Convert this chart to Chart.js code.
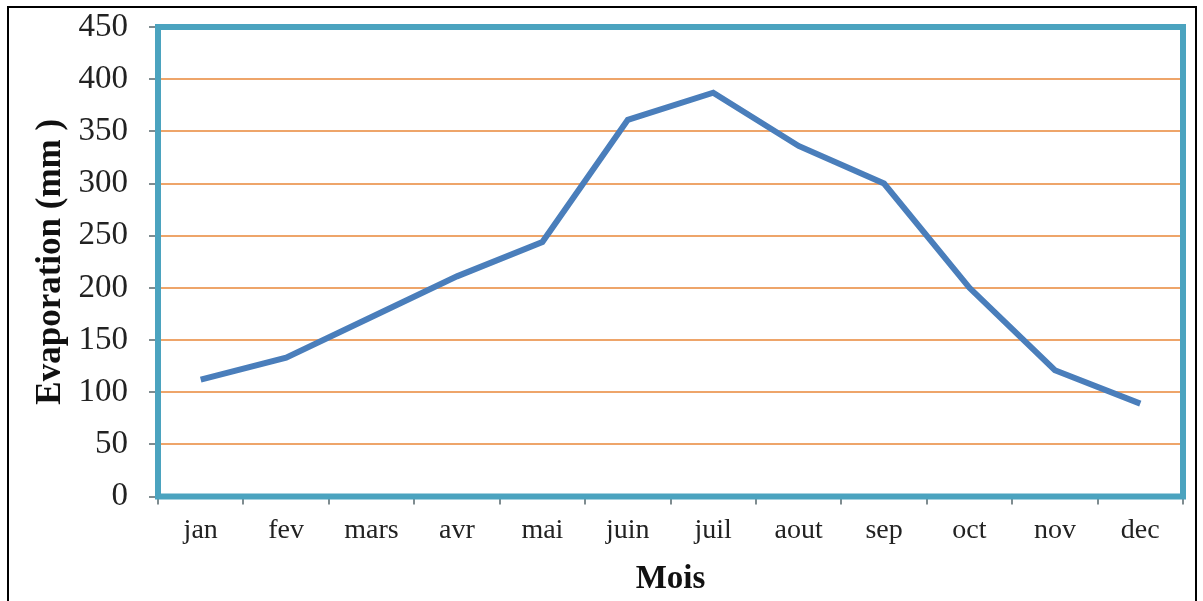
<!DOCTYPE html>
<html lang="fr">

<head>
  <meta charset="UTF-8" />
  <title>Evaporation</title>
  <script src="https://cdn.jsdelivr.net/npm/chart.js@4.4.0/dist/chart.umd.min.js"></script>
  <style>
    html, body { margin: 0; padding: 0; background: #fff; overflow: hidden; }
    #wrap { position: relative; width: 1203px; height: 601px; }
    #frame {
      position: absolute; left: 7px; top: 6px; width: 1190px; height: 700px;
      border: 2px solid #000; box-sizing: border-box;
    }
    canvas { position: absolute; left: 0; top: 0; }
  </style>
</head>

<body>
  <div id="wrap">
    <div id="frame"></div>
    <canvas id="evap" width="1203" height="601"></canvas>
  </div>

  <script>
    // monthly values
    let months = ['jan', 'fev', 'mars', 'avr', 'mai', 'juin', 'juil', 'aout', 'sep', 'oct', 'nov', 'dec'];
    let evaporation = [112, 133, 172, 211, 244, 361, 387, 336, 300, 200, 121, 89];
    let yMin = 0;
    let yMax = 450;
    let yStep = 50;

    let serif = '"Liberation Serif", "Times New Roman", serif';

    // teal frame round the plot area
    const plotFrame = {
      id: 'plotFrame',
      beforeDatasetsDraw(chart) {
        const { ctx, chartArea } = chart;
        ctx.save();
        ctx.strokeStyle = '#4ba3bf';
        ctx.lineWidth = 6;
        ctx.strokeRect(chartArea.left, chartArea.top, chartArea.right - chartArea.left, chartArea.bottom - chartArea.top);
        ctx.restore();
      }
    };

    const ctx = document.getElementById('evap').getContext('2d');
    const chart = new Chart(ctx, {
      type: 'line',
      data: {
        labels: months,
        datasets: [{
          label: 'Evaporation',
          data: evaporation,
          borderColor: '#4a7ebb',
          borderWidth: 6,
          pointRadius: 0,
          tension: 0,
          fill: false
        }]
      },
      options: {
        responsive: false,
        animation: false,
        layout: { padding: { top: 27, right: 20, left: 0, bottom: 0 } },
        plugins: {
          legend: { display: false },
          tooltip: { enabled: false }
        },
        scales: {
          x: {
            offset: true,
            border: { display: false },
            grid: {
              offset: true,
              drawOnChartArea: false,
              tickLength: 8,
              tickColor: '#7f8c90',
              lineWidth: 2
            },
            ticks: {
              color: '#222',
              padding: 9,
              maxRotation: 0,
              font: { family: serif, size: 28 }
            },
            title: {
              display: true,
              text: 'Mois',
              color: '#111',
              padding: { top: 0, bottom: 2 },
              font: { family: serif, size: 33, weight: 'bold' }
            },
            afterFit(scale) {
              scale.height = 104.5;
              scale.paddingLeft = 0;
              scale.paddingRight = 0;
            }
          },
          y: {
            min: yMin,
            max: yMax,
            border: { display: false },
            grid: {
              color: '#eea56a',
              lineWidth: 2,
              tickLength: 9,
              tickColor: '#7f8c90'
            },
            ticks: {
              stepSize: yStep,
              color: '#222',
              padding: 21,
              font: { family: serif, size: 33 }
            },
            title: {
              display: true,
              text: 'Evaporation (mm )',
              color: '#111',
              padding: { top: 30, bottom: 0 },
              font: { family: serif, size: 35, weight: 'bold' }
            },
            afterFit(scale) {
              scale.width = 158;
              scale.paddingTop = 0;
              scale.paddingBottom = 0;
            }
          }
        }
      },
      plugins: [plotFrame]
    });
  </script>
</body>

</html>
